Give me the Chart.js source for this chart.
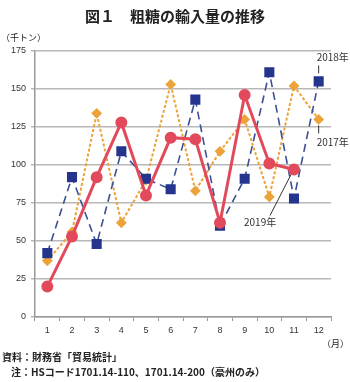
<!DOCTYPE html>
<html>
<head>
    <meta charset="utf-8">
    <title>粗糖の輸入量の推移</title>
    <script src="https://cdn.jsdelivr.net/npm/chart.js"></script>
    <style>
        body { margin: 0; background: #fff; font-family: "Noto Sans CJK JP", "Noto Sans", sans-serif; }
        #wrap { position: relative; width: 350px; height: 382px; }
        #chart { position: absolute; left: 0; top: 0; }
        .txt { position: absolute; color: #222; white-space: nowrap; }
    </style>
</head>
<body>
<div id="wrap">
    <canvas id="chart" width="350" height="382"></canvas>
    <div class="txt" style="left:0;width:350px;top:5px;text-align:center;font-size:15px;font-weight:bold;">図１　粗糖の輸入量の推移</div>
    <div class="txt" style="left:1px;top:31px;font-size:9px;">（千トン）</div>
    <div class="txt" style="left:322px;top:337px;font-size:9px;">（月）</div>
    <div class="txt" style="left:2px;top:349px;font-size:10px;font-weight:bold;">資料：財務省「貿易統計」</div>
    <div class="txt" style="left:11px;top:364px;font-size:10px;font-weight:bold;">注：HSコード1701.14-110、1701.14-200（豪州のみ）</div>
</div>

<script>
    const months = ['1', '2', '3', '4', '5', '6', '7', '8', '9', '10', '11', '12'];
    const imports2017 = [37, 56, 134, 62, 90, 153, 83, 109, 130, 79, 152, 130];
    const imports2018 = [42, 92, 48, 109, 91, 84, 143, 60, 91, 161, 78, 155];
    const imports2019 = [20, 53, 92, 128, 80, 118, 117, 62, 146, 101, 97, null];
    const yTicks = [0, 25, 50, 75, 100, 125, 150, 175];

    // year labels next to the lines, placed from the point pixels
    const yearLabels = {
        id: 'yearLabels',
        afterDatasetsDraw(chart) {
            const ctx = chart.ctx;
            const p17 = chart.getDatasetMeta(0).data[11];
            const p18 = chart.getDatasetMeta(1).data[11];
            const p19 = chart.getDatasetMeta(2).data[10];
            ctx.save();
            ctx.strokeStyle = '#333';
            ctx.lineWidth = 1;
            ctx.fillStyle = '#333';
            ctx.font = '10px "Noto Sans CJK JP"';
            ctx.textBaseline = 'middle';
            ctx.textAlign = 'left';

            ctx.beginPath();
            ctx.moveTo(p18.x, p18.y - 8);
            ctx.lineTo(p18.x, p18.y - 16);
            ctx.moveTo(p17.x, p17.y + 6);
            ctx.lineTo(p17.x, p17.y + 14);
            ctx.moveTo(p19.x - 3, p19.y + 5);
            ctx.lineTo(p19.x - 24, p19.y + 46);
            ctx.stroke();

            ctx.fillText('2018年', p18.x - 2, p18.y - 24);
            ctx.fillText('2017年', p17.x - 2, p17.y + 23);
            ctx.fillText('2019年', p19.x - 50, p19.y + 53);
            ctx.restore();
        }
    };

    new Chart(document.getElementById('chart').getContext('2d'), {
        type: 'line',
        data: {
            labels: months,
            datasets: [{
                label: '2017年',
                data: imports2017,
                borderColor: '#eba33a',
                backgroundColor: '#eba33a',
                borderWidth: 2,
                borderDash: [3, 2],
                pointStyle: 'rectRot',
                pointRadius: 4,
                tension: 0,
                order: 3
            }, {
                label: '2018年',
                data: imports2018,
                borderColor: '#3d4f94',
                backgroundColor: '#25358e',
                pointBorderColor: '#25358e',
                borderWidth: 1.6,
                borderDash: [8, 5],
                pointStyle: 'rect',
                pointRadius: 6,
                tension: 0,
                order: 2
            }, {
                label: '2019年',
                data: imports2019,
                borderColor: '#e24a5b',
                backgroundColor: '#e24a5b',
                borderWidth: 3,
                pointStyle: 'circle',
                pointRadius: 4.5,
                tension: 0,
                order: 1
            }]
        },
        options: {
            responsive: false,
            animation: false,
            layout: { padding: { top: 51, right: 19, bottom: 0, left: 0 } },
            plugins: {
                legend: { display: false },
                tooltip: { enabled: false }
            },
            scales: {
                x: {
                    offset: true,
                    afterFit(scale) { scale.height = 65; },
                    grid: { offset: true, drawOnChartArea: false, tickLength: 4, color: '#999' },
                    border: { color: '#999', width: 1.5 },
                    ticks: { color: '#333', font: { size: 9, family: 'Liberation Sans' }, padding: 4, maxRotation: 0 }
                },
                y: {
                    min: 0,
                    max: 175,
                    afterFit(scale) { scale.width = 35; },
                    afterBuildTicks(scale) { scale.ticks = yTicks.map(v => ({ value: v })); },
                    grid: { color: '#b8b8b8', lineWidth: 1.5, tickLength: 4 },
                    border: { color: '#999', width: 1.5 },
                    ticks: { color: '#333', font: { size: 9, family: 'Liberation Sans' }, padding: 5 }
                }
            }
        },
        plugins: [yearLabels]
    });
</script>
</body>
</html>
